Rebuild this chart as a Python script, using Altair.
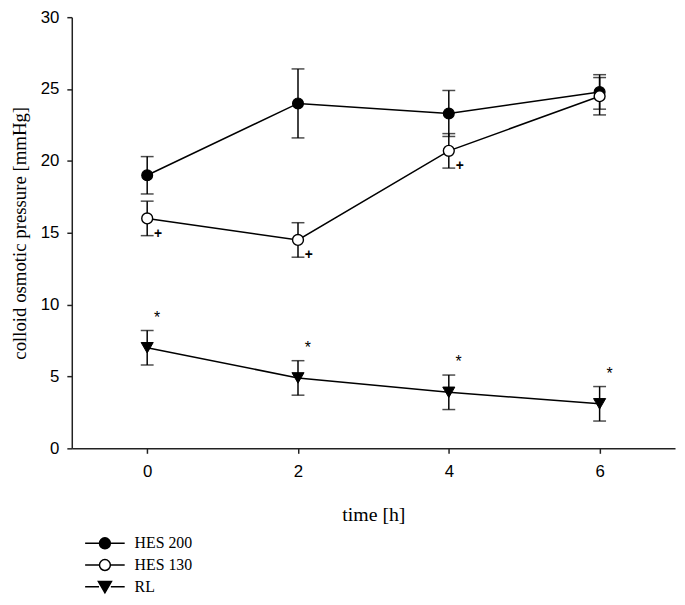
import altair as alt
import pandas as pd

# ---- data ----
time_h = [0, 2, 4, 6]
series_names = ["HES 200", "HES 130", "RL"]
hes200_mean = [19.0, 24.0, 23.3, 24.8]
hes200_sd = [1.3, 2.4, 1.6, 1.2]
hes130_mean = [16.0, 14.5, 20.7, 24.5]
hes130_sd = [1.2, 1.2, 1.2, 1.3]
rl_mean = [7.0, 4.9, 3.9, 3.1]
rl_sd = [1.2, 1.2, 1.2, 1.2]
hes130_marks = ["+", "+", "+", ""]   # below-whisker marks
rl_marks = ["*", "*", "*", "*"]      # above-whisker marks
y_ticks = [0, 5, 10, 15, 20, 25, 30]
x_ticks = [0, 2, 4, 6]

rows = []
for name, means, sds in [("HES 200", hes200_mean, hes200_sd),
                         ("HES 130", hes130_mean, hes130_sd),
                         ("RL", rl_mean, rl_sd)]:
    for i, t in enumerate(time_h):
        rows.append({
            "series": name, "t": t, "mean": means[i],
            "lo": means[i] - sds[i], "hi": means[i] + sds[i],
            "plus": hes130_marks[i] if name == "HES 130" else "",
            "star": rl_marks[i] if name == "RL" else "",
        })
df = pd.DataFrame(rows)

base = alt.Chart(df)
xenc = alt.X("t:Q", scale=alt.Scale(domain=[-1, 7], nice=False, zero=False),
             axis=alt.Axis(values=x_ticks, title="time [h]", labelPadding=10,
                           titlePadding=26, format="d"))
yenc = alt.Y("mean:Q", scale=alt.Scale(domain=[0, 30], nice=False),
             axis=alt.Axis(values=y_ticks, title="colloid osmotic pressure [mmHg]",
                           labelPadding=8, titlePadding=11, titleFontSize=19,
                           format="d"))

lines = base.mark_line(color="black", strokeWidth=1.5).encode(
    x=xenc, y=yenc, detail="series:N")

rules = base.mark_rule(color="black", strokeWidth=1.5).encode(
    x="t:Q", y="lo:Q", y2="hi:Q")

cap_lo = base.mark_tick(color="black", orient="horizontal", size=13, thickness=1.5).encode(
    x="t:Q", y="lo:Q")
cap_hi = base.mark_tick(color="black", orient="horizontal", size=13, thickness=1.5).encode(
    x="t:Q", y="hi:Q")

pts200 = base.transform_filter(alt.datum.series == "HES 200").mark_point(
    shape="circle", size=121, filled=True, fill="black", stroke="black",
    strokeWidth=1.2, opacity=1).encode(x="t:Q", y="mean:Q")
pts130 = base.transform_filter(alt.datum.series == "HES 130").mark_point(
    shape="circle", size=121, filled=True, fill="white", stroke="black",
    strokeWidth=1.4, opacity=1).encode(x="t:Q", y="mean:Q")
ptsrl = base.transform_filter(alt.datum.series == "RL").mark_point(
    shape="triangle-down", size=150, filled=True, fill="black", stroke="black",
    strokeWidth=1.0, opacity=1).encode(x="t:Q", y="mean:Q")

plus_txt = base.mark_text(font="Liberation Sans", fontSize=14, fontWeight="bold",
                          color="black", align="center", baseline="middle",
                          dx=11, dy=-2).encode(
    x="t:Q", y="lo:Q", text="plus:N")
star_txt = base.mark_text(font="Liberation Sans", fontSize=16, color="black",
                          align="center", baseline="middle", dx=10, dy=-13).encode(
    x="t:Q", y="hi:Q", text="star:N")

# legend symbols: line stub with the marker in the middle
r = 0.275
circle_path = (f"M-1,0L-{r},0M{r},0L1,0"
               f"M-{r},0A{r},{r},0,1,1,{r},0A{r},{r},0,1,1,-{r},0Z")
tri_path = "M-1,0L-0.3,0M0.3,0L1,0M-0.33,-0.27L0.33,-0.27L0,0.3Z"
leg = alt.Legend(title=None, orient="none", legendX=12.5, legendY=524,
                 symbolSize=1600, symbolStrokeWidth=1.5, symbolStrokeColor="black",
                 symbolOpacity=1, labelFont="Liberation Serif", labelFontSize=16,
                 labelColor="black", labelOffset=9, clipHeight=16, rowPadding=6,
                 padding=0)
legend_layer = base.mark_point(filled=True, opacity=0, strokeWidth=1.5).encode(
    x="t:Q", y="mean:Q",
    shape=alt.Shape("series:N", scale=alt.Scale(domain=series_names,
                    range=[circle_path, circle_path, tri_path]), legend=leg),
    fill=alt.Fill("series:N", scale=alt.Scale(domain=series_names,
                  range=["black", "white", "black"]), legend=leg),
    stroke=alt.Stroke("series:N", scale=alt.Scale(domain=series_names,
                      range=["black", "black", "black"]), legend=leg),
)

chart = alt.layer(lines, rules, cap_lo, cap_hi, pts200, pts130, ptsrl,
                  plus_txt, star_txt, legend_layer).properties(
    width=610, height=436,
    padding={"left": 64.5, "top": 6, "right": 2, "bottom": 145},
    autosize="none",
).configure_view(stroke=None).configure_axis(
    grid=False, domainColor="#222", domainWidth=1.5, tickColor="#222",
    tickWidth=1.5, tickSize=5, labelFont="Liberation Sans", labelFontSize=17,
    labelColor="black", titleFont="Liberation Serif", titleFontSize=20,
    titleFontWeight="normal", titleColor="black",
).configure_axisX(domain=True).configure_axisY(domain=True)

chart.save("out.html", embed_options={"renderer": "svg", "actions": False})
